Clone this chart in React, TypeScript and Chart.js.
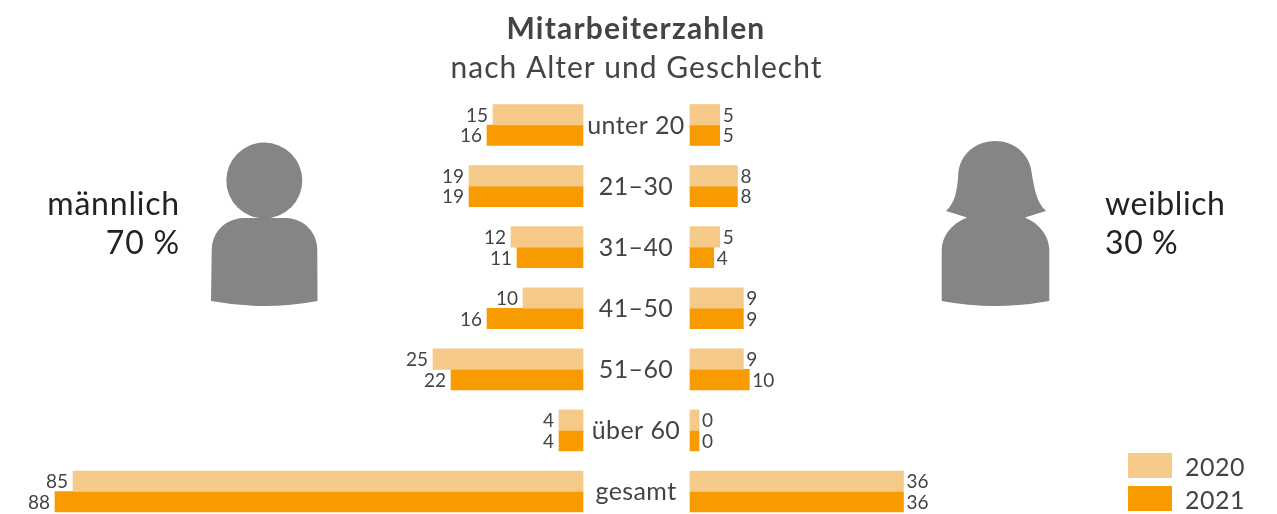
import React, { useEffect, useRef } from "react";
import { Chart, registerables } from "chart.js";

Chart.register(...registerables);

const ageGroups = ["unter 20", "21–30", "31–40", "41–50", "51–60", "über 60", "gesamt"];
const male2020 = [15, 19, 12, 10, 25, 4, 85];
const male2021 = [16, 19, 11, 16, 22, 4, 88];
const female2020 = [5, 8, 5, 9, 9, 0, 36];
const female2021 = [5, 8, 4, 9, 10, 0, 36];
const years = ["2020", "2021"];
const titleText = "Mitarbeiterzahlen";
const subtitleText = "nach Alter und Geschlecht";
const maleLabel = ["männlich", "70 %"];
const femaleLabel = ["weiblich", "30 %"];

const FONT = "Lato";
const LIGHT = "#F5C987";
const DARK = "#F79B00";
const INK = "#444444";
const W = 1277;
const H = 514;
const LEFT_ZERO = 583;
const RIGHT_ZERO = 690;
const LEFT_PX = 6;
const RIGHT_PX = 5.93;

function text(ctx: CanvasRenderingContext2D, s: string, x: number, y: number, font: string, color: string, align: CanvasTextAlign, spacing: number) {
  ctx.save();
  ctx.font = font;
  ctx.fillStyle = color;
  ctx.textAlign = align;
  ctx.textBaseline = "middle";
  (ctx as any).letterSpacing = `${spacing}px`;
  ctx.fillText(s, x, y);
  ctx.restore();
}

const annotations = {
  id: "annotations",
  afterDraw(chart: any) {
    const ctx = chart.ctx;
    text(ctx, titleText, 636, 29, `bold 30px ${FONT}`, INK, "center", 1.2);
    text(ctx, subtitleText, 636.5, 68, `400 30px ${FONT}`, INK, "center", 1);

    text(ctx, maleLabel[0], 180, 205, `32px ${FONT}`, "#222222", "right", 0.8);
    text(ctx, maleLabel[1], 180, 244, `32px ${FONT}`, "#222222", "right", 0.8);
    text(ctx, femaleLabel[0], 1105, 205, `32px ${FONT}`, "#222222", "left", 0.6);
    text(ctx, femaleLabel[1], 1105, 244, `32px ${FONT}`, "#222222", "left", 0.6);

    ageGroups.forEach((g, i) => {
      text(ctx, g, 636, chart.scales.y.getPixelForTick(i) + 0.5, `25px ${FONT}`, INK, "center", 0.4);
    });

    chart.data.datasets.forEach((ds: any, i: number) => {
      const isLeft = ds.xAxisID === "xLeft";
      chart.getDatasetMeta(i).data.forEach((el: any, j: number) => {
        const dx = isLeft ? -5 : 3;
        text(ctx, String(ds.data[j]), el.x + dx, el.y + 1, `19px ${FONT}`, INK, isLeft ? "right" : "left", 0);
      });
    });

    years.forEach((y, i) => {
      const top = 453 + i * 33;
      ctx.fillStyle = i === 0 ? LIGHT : DARK;
      ctx.fillRect(1128, top, 44, 25);
      text(ctx, y, 1185, top + 15, `25px ${FONT}`, INK, "left", 0.5);
    });
  },
};

export default function App() {
  const ref = useRef<HTMLCanvasElement>(null);
  useEffect(() => {
    if (!ref.current) return;
    const common = { barThickness: 20.5, clip: false as const, borderWidth: 0 };
    const chart = new Chart(ref.current, {
      type: "bar",
      data: {
        labels: ageGroups,
        datasets: [
          { label: "männlich 2020", data: male2020, xAxisID: "xLeft", stack: "2020", backgroundColor: LIGHT, ...common },
          { label: "männlich 2021", data: male2021, xAxisID: "xLeft", stack: "2021", backgroundColor: DARK, ...common },
          { label: "weiblich 2020", data: female2020, xAxisID: "xRight", stack: "2020", backgroundColor: LIGHT, minBarLength: 9, base: -0.0001, ...common },
          { label: "weiblich 2021", data: female2021, xAxisID: "xRight", stack: "2021", backgroundColor: DARK, minBarLength: 9, base: -0.0001, ...common },
        ] as any,
      },
      options: {
        indexAxis: "y",
        animation: false,
        responsive: false,
        layout: { padding: { top: 125, bottom: 22.5, left: 0, right: 0 } },
        plugins: { legend: { display: false }, title: { display: false }, tooltip: { enabled: false } },
        scales: {
          y: {
            type: "category",
            display: false,
            offset: false,
          },
          xLeft: {
            type: "linear",
            display: false,
            stacked: false,
            reverse: true,
            min: -(W - LEFT_ZERO) / LEFT_PX,
            max: LEFT_ZERO / LEFT_PX,
          },
          xRight: {
            type: "linear",
            display: false,
            stacked: false,
            min: -RIGHT_ZERO / RIGHT_PX,
            max: (W - RIGHT_ZERO) / RIGHT_PX,
          },
        },
      } as any,
      plugins: [annotations],
    });
    return () => chart.destroy();
  }, []);

  return (
    <div style={{ position: "absolute", left: 0, top: 0, width: W, height: H, overflow: "hidden", background: "#fff" }}>
      <svg width={W} height={H} style={{ position: "absolute", left: 0, top: 0 }}>
        <g fill="#858585">
          <circle cx="264.3" cy="180.5" r="38" />
          <path d="M243 218 C225 219 212 232 211.7 250 L211 301 Q264 311 317.5 301 L317.3 250 C317 232 304 219 286.7 218 Z" />
          <path d="M995 141 C975 141 960 155 958.3 173 C957.5 190 955 203 946 211 L967 217.5 C951 224 942 236 941.7 250 L941.7 301 Q995 311 1049.3 301 L1049.3 250 C1049 236 1040 224 1025 217.5 L1046 211 C1037 203 1034.5 190 1031.7 173 C1030 155 1015 141 995 141 Z" />
        </g>
      </svg>
      <canvas ref={ref} width={W} height={H} style={{ position: "absolute", left: 0, top: 0, display: "block" }} />
    </div>
  );
}
